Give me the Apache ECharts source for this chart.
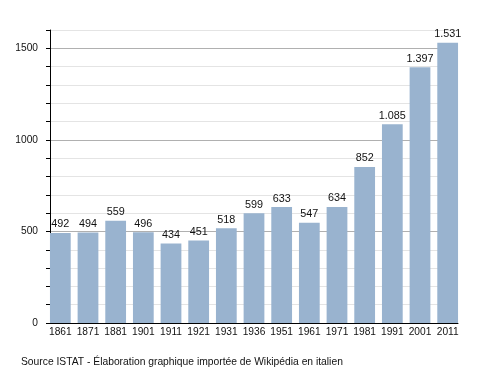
<!DOCTYPE html>
<html><head><meta charset="utf-8">
<script src="https://cdn.jsdelivr.net/npm/echarts@6/dist/echarts.min.js"></script>
<style>html,body{margin:0;padding:0;background:#fff}#c{width:488px;height:373px}</style>
</head><body><div id="c"></div>
<script>
const years = ['1861','1871','1881','1901','1911','1921','1931','1936','1951','1961','1971','1981','1991','2001','2011'];
const population = [492,494,559,496,434,451,518,599,633,547,634,852,1085,1397,1531];
const yTickValues = [0,500,1000,1500];
const yTickLabels = ['0','500','1000','1500'];
const sourceText = 'Source ISTAT - Élaboration graphique importée de Wikipédia en italien';

const FONT = '"Liberation Sans", Arial, sans-serif';
const fmt = v => String(v).replace(/\B(?=(\d{3})+(?!\d))/g, '.');
const chart = echarts.init(document.getElementById('c'), null, {renderer:'canvas'});
chart.setOption({
  animation:false,
  backgroundColor:'#fff',
  grid:[
    {left:46.5, right:26.5, top:30, bottom:50},
    {left:50, right:30, top:30, bottom:50}
  ],
  xAxis:[
    {gridIndex:0, type:'category', data:years, boundaryGap:true,
     axisLine:{show:false}, axisTick:{show:false},
     axisLabel:{color:'#111', fontFamily:FONT, fontSize:10.2, margin:4, interval:0}},
    {gridIndex:1, type:'category', data:years,
     axisLine:{show:true, lineStyle:{color:'#000', width:1}}, axisTick:{show:false},
     axisLabel:{show:false}, splitLine:{show:false}}
  ],
  yAxis:[
    {gridIndex:0, type:'value', min:0, max:1600, show:false},
    {gridIndex:1, type:'value', min:0, max:1600, interval:100,
     axisLine:{show:true, lineStyle:{color:'#000', width:1}},
     axisTick:{show:true, inside:false, length:4, lineStyle:{color:'#000'}},
     axisLabel:{show:false},
     splitLine:{show:true, lineStyle:{color:'#e4e4e4', width:1}}},
    {gridIndex:1, type:'value', min:0, max:1600, interval:500, position:'left',
     axisLine:{show:false}, axisTick:{show:false},
     axisLabel:{color:'#111', fontFamily:FONT, fontSize:10.2, margin:12, showMaxLabel:false,
       formatter:(v)=>{const i=yTickValues.indexOf(v);return i>=0?yTickLabels[i]:'';}},
     splitLine:{show:true, showMaxLine:false, showMinLine:false, lineStyle:{color:'#b0b0b0', width:1}}}
  ],
  series:[{
    type:'bar', xAxisIndex:0, yAxisIndex:0, data:population,
    barCategoryGap:'25%',
    itemStyle:{color:'#99b3cf'},
    label:{show:true, position:'top', distance:3, color:'#111', fontFamily:FONT, fontSize:10.8,
      formatter:p=>fmt(p.value)},
    z:3
  },{
    type:'bar', xAxisIndex:1, yAxisIndex:1, data:[]
  }],
  graphic:[{type:'text', left:21, top:357,
    style:{text:sourceText, fill:'#111', font:'10.3px '+FONT}}]
});
</script></body></html>
